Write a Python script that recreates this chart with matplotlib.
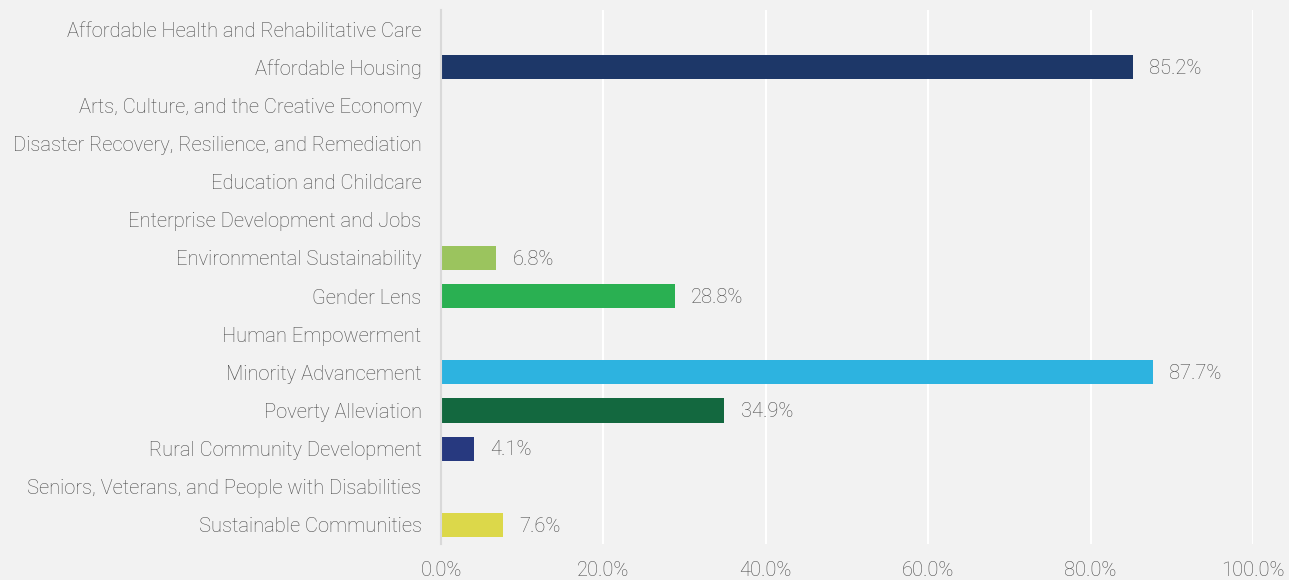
import matplotlib
matplotlib.use("Agg")
import matplotlib.pyplot as plt
import numpy as np

categories = [
    "Affordable Health and Rehabilitative Care",
    "Affordable Housing",
    "Arts, Culture, and the Creative Economy",
    "Disaster Recovery, Resilience, and Remediation",
    "Education and Childcare",
    "Enterprise Development and Jobs",
    "Environmental Sustainability",
    "Gender Lens",
    "Human Empowerment",
    "Minority Advancement",
    "Poverty Alleviation",
    "Rural Community Development",
    "Seniors, Veterans, and People with Disabilities",
    "Sustainable Communities",
]
values = [None, 85.2, None, None, None, None, 6.8, 28.8, None, 87.7, 34.9, 4.1, None, 7.6]
colors = [None, "#1d3768", None, None, None, None, "#9bc45e", "#2ab052", None,
          "#2db3e0", "#13683f", "#27397f", None, "#dcd84a"]
xticks = [0, 20, 40, 60, 80, 100]
xticklabels = ["0.0%", "20.0%", "40.0%", "60.0%", "80.0%", "100.0%"]

plt.rcParams['font.family'] = ['Roboto', 'DejaVu Sans']
bg = "#f2f2f2"
txt = "#4a4a4a"
fs = 14.5

fig = plt.figure(figsize=(12.89, 5.80), dpi=100, facecolor=bg)
ax = fig.add_axes([441/1289, 36/580, (1253-441)/1289, (544-10)/580])
ax.set_facecolor(bg)

y = np.arange(len(categories))
for i, (v, c) in enumerate(zip(values, colors)):
    if v is None:
        continue
    ax.barh(i, v, height=0.63, color=c, zorder=3)
    ax.text(v + 2.0, i + 0.03, f"{v:.1f}%", va="center", ha="left", color=txt,
            fontsize=fs, fontweight="light")

ax.set_xlim(0, 100)
ax.set_ylim(len(categories) - 0.5, -0.5)
ax.set_yticks(y)
ax.set_yticklabels(categories, fontsize=fs, fontweight="light", color=txt)
ax.set_xticks(xticks)
ax.set_xticklabels(xticklabels, fontsize=fs, fontweight="light", color=txt)
ax.tick_params(axis="both", length=0)
ax.tick_params(axis="y", pad=14)
ax.tick_params(axis="x", pad=12)
for s in ["top", "right", "bottom"]:
    ax.spines[s].set_visible(False)
ax.spines["left"].set_color("#d9d9d9")
ax.spines["left"].set_linewidth(1.5)
ax.spines["left"].set_zorder(4)
ax.xaxis.grid(True, color="white", linewidth=1.5, zorder=0)
ax.set_axisbelow(True)

fig.savefig("out.png", dpi=100, facecolor=bg)
